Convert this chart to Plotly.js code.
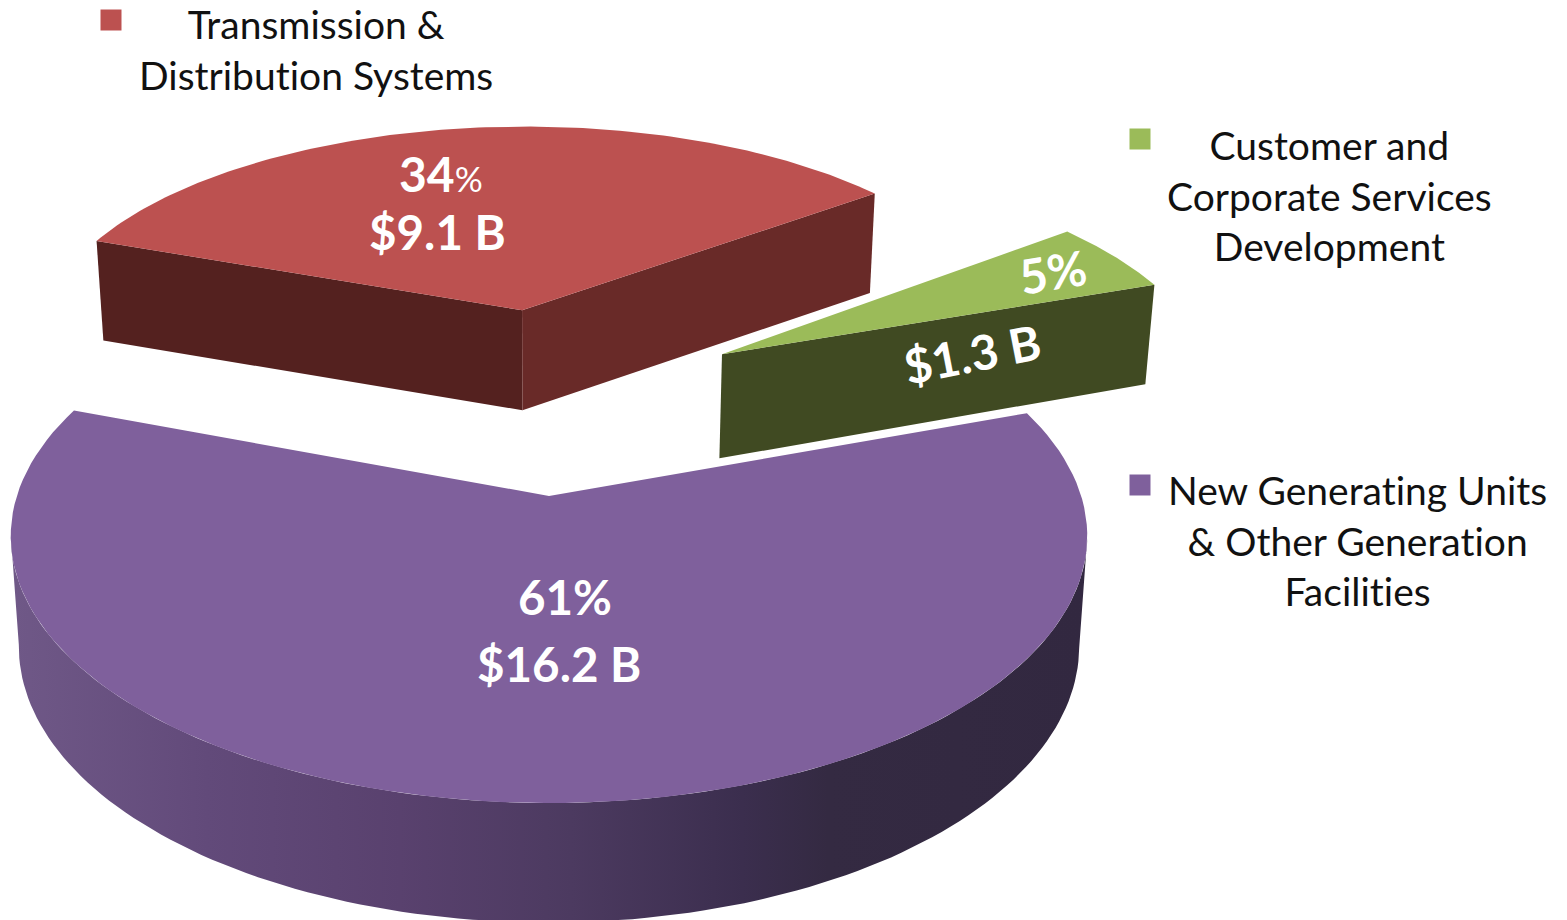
<!DOCTYPE html>
<html><head><meta charset="utf-8">
<script src="https://cdn.plot.ly/plotly-3.0.1.min.js"></script>
<style>html,body{margin:0;padding:0;background:#fff}#c{width:1567px;height:920px}
svg text{font-variant-ligatures:none;font-feature-settings:"liga" 0,"clig" 0,"calt" 0;letter-spacing:0.01px}</style>
</head><body><div id="c"></div>
<script>
// ---- data ----
const categories = ["Transmission &<br>Distribution Systems","Customer and<br>Corporate Services<br>Development","New Generating Units<br>& Other Generation<br>Facilities"];
const shares = [34, 5, 61];
const amounts = ["$9.1 B", "$1.3 B", "$16.2 B"];

// ---- styling ----
const topColors = ["#bc5150","#9bbb59","#7f609c"];
const FONT = "Lato, Carlito, sans-serif";

// ---- perspective pie projection (world disc of radius 1 -> page pixels) ----
const view = {cx:549, cy:496, rx:529, ry:261, p:0.15, taper:0.985};
const explode = [[-0.057,0.797],[0.356,0.591],[0,0]];
const widen = [1.008,1.003,1.006];
const twist = [-0.55,-0.5,-0.35];
function thickness(s){
  if(s<0.89) return 99.5;
  if(s<0.918) return 99.5+(s-0.89)*160;
  return 104+(s-0.918)*60;
}
function project(X,Y,bottom){
  const s = 1/(1+view.p*Y);
  let x = view.cx + view.rx*X*s;
  let y = view.cy - view.ry*Y*s;
  if(bottom){ y += thickness(s); x = view.cx + (x-view.cx)*view.taper; }
  return [x,y];
}
// slice angle ranges follow the shares; the largest slice is centred on the front
const total = shares.reduce((a,b)=>a+b,0);
const sweep = shares.map(v=>v/total*360);
const startPurple = 270 - sweep[2]/2;
const ranges = [];
ranges[0] = [startPurple, startPurple - sweep[0]];
ranges[1] = [ranges[0][1], ranges[0][1] - sweep[1]];
ranges[2] = [startPurple, startPurple + sweep[2]];
function rim(i,deg,bottom){
  const t=(deg+twist[i])*Math.PI/180, ex=explode[i];
  return project(ex[0]+widen[i]*Math.cos(t),ex[1]+Math.sin(t),bottom);
}
function arc(i,from,to,bottom){
  const n = 120, xs=[], ys=[];
  for(let k=0;k<=n;k++){
    const q=rim(i,from+(to-from)*k/n,bottom);
    xs.push(q[0]); ys.push(q[1]);
  }
  return [xs,ys];
}
function apex(i,bottom){ return project(explode[i][0],explode[i][1],bottom); }
function poly(xs,ys,color,extra){
  return Object.assign({type:"scatter",mode:"lines",x:xs.concat([xs[0]]),y:ys.concat([ys[0]]),
    fill:"toself",fillcolor:color,line:{width:0,color:color},hoverinfo:"skip",showlegend:false},extra||{});
}
function topFace(i){
  const [ax,ay]=arc(i,ranges[i][0],ranges[i][1],false), c=apex(i,false);
  return poly([c[0]].concat(ax),[c[1]].concat(ay),topColors[i]);
}
function cutFace(i,angle,color){
  const o1=rim(i,angle,false), o2=rim(i,angle,true);
  const c1=apex(i,false), c2=apex(i,true);
  return poly([c1[0],o1[0],o2[0],c2[0]],[c1[1],o1[1],o2[1],c2[1]],color);
}
function wall(i){
  // visible outer wall runs between the two silhouette points of the perspective ellipse
  const side = Math.asin(view.p)*180/Math.PI;
  const from = 180+side, to = 360-side;
  const [tx,ty]=arc(i,from,to,false), [bx,by]=arc(i,from,to,true);
  return poly(tx.concat(bx.slice().reverse()),ty.concat(by.slice().reverse()),"#5f4777",{
    fillgradient:{type:"horizontal",start:15,stop:1085,colorscale:[
      [0,"#6f5887"],[0.18,"#624a7a"],[0.36,"#59416e"],[0.52,"#4c3a60"],[0.68,"#3b2e4e"],[0.76,"#342a42"],[1,"#322840"]]}
  });
}
const traces = [
  wall(2), topFace(2),
  cutFace(0,ranges[0][0],"#54211f"), cutFace(0,ranges[0][1],"#692a28"), topFace(0),
  cutFace(1,ranges[1][1],"#404a22"), topFace(1),
  {type:"scatter",mode:"markers",x:[111,1140,1140],y:[20,139,485],
   marker:{symbol:"square",size:21,color:topColors},hoverinfo:"skip",showlegend:false}
];
const legendPos = [[316,49],[1329,195],[1357,540]];
function note(x,y,text,size,color,angle){
  return {xref:"x",yref:"y",x:x,y:y,text:text,showarrow:false,xanchor:"center",yanchor:"middle",align:"center",
    textangle:angle||0,font:{family:FONT,size:size,color:color}};
}
const annotations = categories.map((c,i)=>note(legendPos[i][0],legendPos[i][1],c,39,"#111111"));
annotations.push(
  note(441,173,"<b>"+shares[0]+"</b><span style='font-size:35px'>%</span>",48,"#ffffff"),
  note(437,231,"<b>"+amounts[0]+"</b>",47.5,"#ffffff"),
  note(1052,271,"<b>"+shares[1]+"%</b>",48,"#ffffff",-9),
  note(972,353,"<b>"+amounts[1]+"</b>",48,"#ffffff",-11),
  note(565,596,"<b>"+shares[2]+"%</b>",47.5,"#ffffff"),
  note(559,663,"<b>"+amounts[2]+"</b>",47.5,"#ffffff")
);
Plotly.newPlot("c",traces,{
  width:1567,height:920,margin:{l:0,r:0,t:0,b:0},paper_bgcolor:"#fff",plot_bgcolor:"#fff",showlegend:false,
  xaxis:{range:[0,1567],visible:false,fixedrange:true},
  yaxis:{range:[920,0],visible:false,fixedrange:true},
  annotations:annotations
},{displayModeBar:false,staticPlot:true});
</script></body></html>
